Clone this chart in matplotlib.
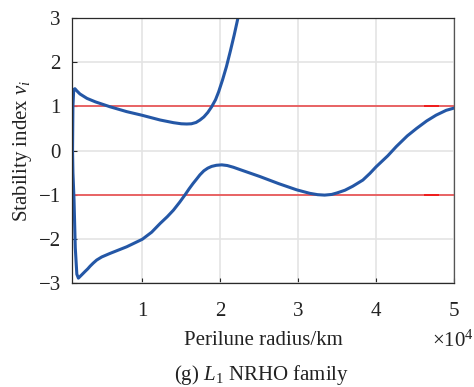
import matplotlib
matplotlib.use("Agg")
import matplotlib.pyplot as plt

plt.rcParams["font.family"] = ["Liberation Serif", "DejaVu Serif"]
plt.rcParams["mathtext.fontset"] = "custom"
plt.rcParams["mathtext.rm"] = "Liberation Serif"
plt.rcParams["mathtext.it"] = "Liberation Serif:italic"

# Stability index branches of the L1 NRHO family vs perilune radius (km)
upper_r = [1050, 1100, 1200, 1350, 1600, 2000, 2900, 4000, 5860, 8000, 9920,
           12300, 14000, 15000, 15700, 16300, 16900, 17400, 17900, 18400,
           18900, 19400, 19800, 20300, 20800, 21300, 21800, 22300]
upper_v = [0.0, 1.0, 1.38, 1.40, 1.35, 1.28, 1.18, 1.10, 0.99, 0.88, 0.80,
           0.69, 0.63, 0.605, 0.60, 0.605, 0.635, 0.69, 0.76, 0.86,
           0.99, 1.15, 1.33, 1.60, 1.90, 2.25, 2.62, 3.02]

lower_r = [1050, 1100, 1240, 1400, 1600, 1800, 2200, 2650, 3000, 3300, 3700,
           4150, 4800, 5860, 8000, 10000, 11200, 12300, 13200, 14000, 14800,
           15500, 16000, 16500, 17000, 17400, 17900, 18400, 18900, 19500,
           20200, 20900, 21700, 22500, 23800, 25100, 27500, 29800, 31500,
           32500, 33400, 34300, 35000, 36000, 37000, 38300, 39200, 40000,
           41500, 42600, 44000, 45200, 46500, 47700, 49000, 50000]
lower_v = [0.0, -0.5, -1.12, -2.20, -2.80, -2.89, -2.82, -2.74, -2.68, -2.62,
           -2.55, -2.48, -2.41, -2.33, -2.18, -2.01, -1.85, -1.65, -1.50,
           -1.35, -1.17, -1.00, -0.87, -0.75, -0.64, -0.55, -0.46, -0.40,
           -0.36, -0.335, -0.325, -0.34, -0.38, -0.43, -0.51, -0.59, -0.75,
           -0.89, -0.97, -1.00, -1.01, -0.995, -0.96, -0.90, -0.81, -0.67,
           -0.52, -0.37, -0.12, 0.09, 0.33, 0.50, 0.67, 0.80, 0.91, 0.96]

bound_levels = [1, -1]
bound_mark_r = [46300, 48000]

x_ticks = [10000, 20000, 30000, 40000, 50000]
x_tick_labels = ["1", "2", "3", "4", "5"]
y_ticks = [-3, -2, -1, 0, 1, 2, 3]
y_tick_labels = ["\u22123", "\u22122", "\u22121", "0", "1", "2", "3"]

fs = 15

fig = plt.figure(figsize=(4.74, 3.87), dpi=100)
ax = fig.add_axes([72 / 474, 104 / 387, 382 / 474, 265 / 387])

for lvl in bound_levels:
    ax.axhline(lvl, color="#e8585a", lw=1.3, zorder=2)
    ax.plot(bound_mark_r, [lvl, lvl], color="#f01c1c", lw=1.4, zorder=2.1)

blue = "#2457a6"
ax.plot(upper_r, upper_v, color=blue, lw=2.2, zorder=3,
        solid_joinstyle="round", solid_capstyle="round")
ax.plot(lower_r, lower_v, color=blue, lw=2.2, zorder=3,
        solid_joinstyle="round", solid_capstyle="round")

ax.set_xlim(980, 50000)
ax.set_ylim(-3, 3)
ax.set_xticks(x_ticks)
ax.set_xticklabels(x_tick_labels)
ax.set_yticks(y_ticks)
ax.set_yticklabels(y_tick_labels)
ax.grid(True, color="#e4e4e4", lw=1.2, zorder=0)
ax.set_axisbelow(True)

ax.tick_params(direction="in", length=3.5, width=0.8, colors="#262626",
               labelsize=fs, labelcolor="#222222")
ax.tick_params(axis="x", pad=14)
ax.tick_params(axis="y", pad=8)
for side, sp in ax.spines.items():
    sp.set_color("#2a2a2a")
    sp.set_linewidth(0.9)
    sp.set_zorder(4)
ax.spines["right"].set_color("#555555")

ax.set_xlabel("Perilune radius/km", fontsize=fs, color="#222222")
ax.xaxis.set_label_coords(0.5, -0.18)
ax.set_ylabel("Stability index $v_i$", fontsize=fs, color="#222222")
ax.yaxis.set_label_coords(-0.10, 0.5)

fig.text(453 / 474, 1 - 347 / 387, "\u00d710$^4$", fontsize=fs,
         color="#222222", ha="center", va="baseline")
fig.text(262 / 474, 1 - 380 / 387, "(g) $L_1$ NRHO family", fontsize=fs,
         color="#222222", ha="center", va="baseline")

fig.savefig("out.png", dpi=100)
